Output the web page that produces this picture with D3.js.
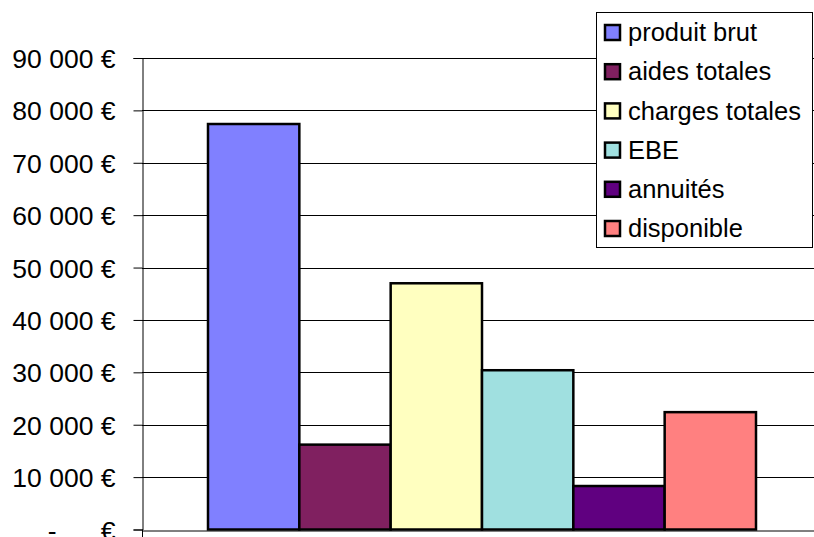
<!DOCTYPE html>
<html><head><meta charset="utf-8">
<script src="https://cdn.jsdelivr.net/npm/d3@7"></script>
<style>
html,body{margin:0;padding:0;background:#fff;overflow:hidden;}
svg{display:block;font-family:"Liberation Sans",Arial,sans-serif;}
</style></head>
<body>
<svg id="chart" width="814" height="537"></svg>
<script>
const series = ["produit brut","aides totales","charges totales","EBE","annuités","disponible"];
const values = [77400, 16200, 47000, 30400, 8300, 22400];
const colors = ["#8080FF","#802060","#FFFFC0","#A0E0E0","#600080","#FF8080"];
const tickValues = [0,10000,20000,30000,40000,50000,60000,70000,80000,90000];
const tickLabels = ["-      €","10 000 €","20 000 €","30 000 €","40 000 €","50 000 €","60 000 €","70 000 €","80 000 €","90 000 €"];

const svg = d3.select("#chart");
const plot = {left:142, right:822, top:58, bottom:529.5};

const y = d3.scaleLinear().domain([0,90000]).range([plot.bottom, plot.top]);
const xCat = d3.scaleBand().domain(["c"]).range([plot.left, plot.right]).paddingInner(0).paddingOuter(0);
const groupPad = 66;
const xSer = d3.scaleBand().domain(series)
  .range([xCat("c")+groupPad, xCat("c")+xCat.bandwidth()-groupPad]).padding(0);

// gridlines
svg.append("g").selectAll("line").data(tickValues.filter(v=>v>0)).join("line")
  .attr("x1",plot.left).attr("x2",814)
  .attr("y1",d=>Math.round(y(d))+0.5).attr("y2",d=>Math.round(y(d))+0.5)
  .attr("stroke","#000").attr("stroke-width",1);

// y axis
const yAxis = d3.axisLeft(y).tickValues(tickValues)
  .tickFormat((d,i)=>tickLabels[i]).tickSize(9).tickPadding(18);
const gy = svg.append("g").attr("transform",`translate(${plot.left+0.5},0)`).call(yAxis);
gy.select(".domain").attr("stroke","#000");
gy.selectAll(".tick line").attr("stroke","#000");
gy.selectAll(".tick text").attr("font-size","26.5px").attr("fill","#000")
  .attr("font-family","Liberation Sans, Arial, sans-serif")
  .style("white-space","pre").attr("dy","0.36em");

// x axis
const xAxis = d3.axisBottom(xCat).tickValues([]).tickSizeOuter(9);
svg.append("g").attr("transform",`translate(0,${Math.round(plot.bottom)+0.5})`).call(xAxis)
  .select(".domain").attr("stroke","#000");
svg.append("line").attr("x1",plot.left+0.5).attr("x2",plot.left+0.5)
  .attr("y1",plot.bottom).attr("y2",plot.bottom+9).attr("stroke","#000");

// bars
svg.append("g").selectAll("rect").data(series).join("rect")
  .attr("x",d=>xSer(d)).attr("width",xSer.bandwidth())
  .attr("y",(d,i)=>y(values[i])).attr("height",(d,i)=>plot.bottom-y(values[i]))
  .attr("fill",(d,i)=>colors[i]).attr("stroke","#000").attr("stroke-width",2.5);

// legend
const lg = svg.append("g");
lg.append("rect").attr("x",596.5).attr("y",12.5).attr("width",216).attr("height",235)
  .attr("fill","#fff").attr("stroke","#000").attr("stroke-width",1);
const rowY = d3.scalePoint().domain(series).range([32,228]);
const items = lg.selectAll("g.item").data(series).join("g").attr("class","item")
  .attr("transform",d=>`translate(0,${rowY(d)})`);
items.append("rect").attr("x",605).attr("y",-7).attr("width",15).attr("height",15)
  .attr("fill",(d,i)=>colors[i]).attr("stroke","#000").attr("stroke-width",2.5);
items.append("text").attr("x",628).attr("y",0).attr("dy","0.36em")
  .attr("font-size","25.5px").attr("fill","#000").text(d=>d);
</script>
</body></html>
